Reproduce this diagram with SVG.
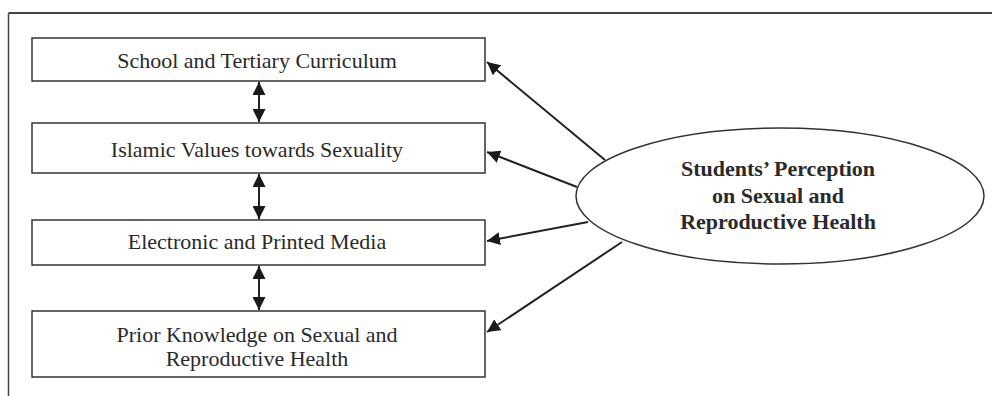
<svg xmlns="http://www.w3.org/2000/svg" width="992" height="396" viewBox="0 0 992 396">
<defs>
<marker id="ah" viewBox="0 0 12 12" refX="12" refY="6" markerWidth="13" markerHeight="13" markerUnits="userSpaceOnUse" orient="auto-start-reverse">
<path d="M0,0 L12,6 L0,12 Z" fill="#1a1a1a"/>
</marker>
</defs>
<style>
.box{fill:#fff;stroke:#333;stroke-width:1.5}
.lbl{font-family:"Liberation Serif","Times New Roman",serif;font-size:22px;fill:#2a2a2a;text-anchor:middle}
.bold{font-family:"Liberation Serif","Times New Roman",serif;font-size:22px;font-weight:bold;fill:#2a2a2a;text-anchor:middle}
.con{stroke:#222;stroke-width:2;fill:none}
.frame{stroke:#444;fill:none}
</style>
<rect width="992" height="396" fill="#fff"/>
<g id="frame">
<line class="frame" x1="8.5" y1="13" x2="992" y2="13" stroke-width="2"/>
<line class="frame" x1="8.5" y1="13" x2="8.5" y2="396" stroke-width="1.5"/>
</g>
<g id="n1">
<rect class="box" x="32" y="38" width="453" height="43"/>
<text class="lbl" x="257" y="68">School and Tertiary Curriculum</text>
</g>
<g id="n2">
<rect class="box" x="32" y="123" width="453" height="50"/>
<text class="lbl" x="257" y="157">Islamic Values towards Sexuality</text>
</g>
<g id="n3">
<rect class="box" x="32" y="220" width="453" height="45"/>
<text class="lbl" x="257" y="249">Electronic and Printed Media</text>
</g>
<g id="n4">
<rect class="box" x="32" y="311" width="453" height="66"/>
<text class="lbl" x="257" y="342">Prior Knowledge on Sexual and</text>
<text class="lbl" x="257" y="366">Reproductive Health</text>
</g>
<g id="center">
<ellipse cx="780" cy="196" rx="204" ry="68" fill="#fff" stroke="#333" stroke-width="1.5"/>
<text class="bold" x="778" y="176">Students’ Perception</text>
<text class="bold" x="778" y="203">on Sexual and</text>
<text class="bold" x="778" y="229">Reproductive Health</text>
</g>
<g id="connectors">
<line class="con" x1="259" y1="82" x2="259" y2="122" marker-start="url(#ah)" marker-end="url(#ah)"/>
<line class="con" x1="259" y1="174" x2="259" y2="219" marker-start="url(#ah)" marker-end="url(#ah)"/>
<line class="con" x1="259" y1="266" x2="259" y2="310" marker-start="url(#ah)" marker-end="url(#ah)"/>
<line class="con" x1="605" y1="160" x2="487" y2="62" marker-end="url(#ah)"/>
<line class="con" x1="577" y1="187" x2="487" y2="152" marker-end="url(#ah)"/>
<line class="con" x1="588" y1="222" x2="487" y2="241" marker-end="url(#ah)"/>
<line class="con" x1="622" y1="242" x2="487" y2="332" marker-end="url(#ah)"/>
</g>
</svg>
